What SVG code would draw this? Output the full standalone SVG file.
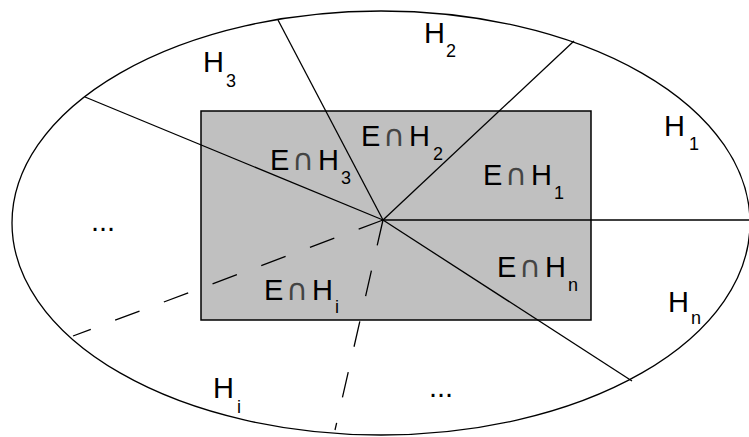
<svg xmlns="http://www.w3.org/2000/svg" width="749" height="437" viewBox="0 0 749 437">
<style>
.ln{stroke:#000;stroke-width:1.3;fill:none}
.dash{stroke-dasharray:26 26}
.t{font-family:"Liberation Sans",Arial,sans-serif;font-size:29px;fill:#000}
.s{font-size:18px}
.cap{font-family:"DejaVu Sans",sans-serif;font-size:30px;fill:#444}
</style>
<rect width="749" height="437" fill="#fff"/>
<g id="universe"><ellipse class="ln" cx="381" cy="223" rx="369" ry="212"/></g>
<g id="E"><rect x="201" y="111" width="390" height="209" fill="#c0c0c0" stroke="#000" stroke-width="1.5"/></g>
<g id="connectors">
<line class="ln" x1="383" y1="220" x2="278" y2="20"/>
<line class="ln" x1="383" y1="220" x2="574" y2="41"/>
<line class="ln" x1="383" y1="220" x2="749" y2="220"/>
<line class="ln" x1="383" y1="220" x2="632" y2="381"/>
<line class="ln" x1="383" y1="220" x2="85" y2="97"/>
<line class="ln dash" x1="383" y1="220" x2="73" y2="336"/>
<line class="ln dash" x1="383" y1="220" x2="335" y2="430"/>
</g>
<g id="EH3"><text class="t" x="270" y="170">E<tspan class="cap" x="292">∩</tspan><tspan x="318">H</tspan><tspan class="s" x="341" y="184">3</tspan></text></g>
<g id="EH2"><text class="t" x="361" y="146">E<tspan class="cap" x="383">∩</tspan><tspan x="409">H</tspan><tspan class="s" x="433" y="160">2</tspan></text></g>
<g id="EH1"><text class="t" x="483" y="185">E<tspan class="cap" x="505">∩</tspan><tspan x="531">H</tspan><tspan class="s" x="554" y="199">1</tspan></text></g>
<g id="EHn"><text class="t" x="497" y="277">E<tspan class="cap" x="519">∩</tspan><tspan x="545">H</tspan><tspan class="s" x="568" y="291">n</tspan></text></g>
<g id="EHi"><text class="t" x="264" y="300">E<tspan class="cap" x="286">∩</tspan><tspan x="312">H</tspan><tspan class="s" x="335" y="313">i</tspan></text></g>
<g id="H2"><text class="t" x="424" y="43">H<tspan class="s" x="446" y="57">2</tspan></text></g>
<g id="H3"><text class="t" x="203" y="72">H<tspan class="s" x="226" y="87">3</tspan></text></g>
<g id="H1"><text class="t" x="664" y="136">H<tspan class="s" x="689" y="150">1</tspan></text></g>
<g id="Hn"><text class="t" x="668" y="312">H<tspan class="s" x="691" y="324">n</tspan></text></g>
<g id="Hi"><text class="t" x="213" y="398">H<tspan class="s" x="237" y="413">i</tspan></text></g>
<g id="dotsL"><text class="t" x="91" y="231">...</text></g>
<g id="dotsB"><text class="t" x="429" y="397">...</text></g>
</svg>
